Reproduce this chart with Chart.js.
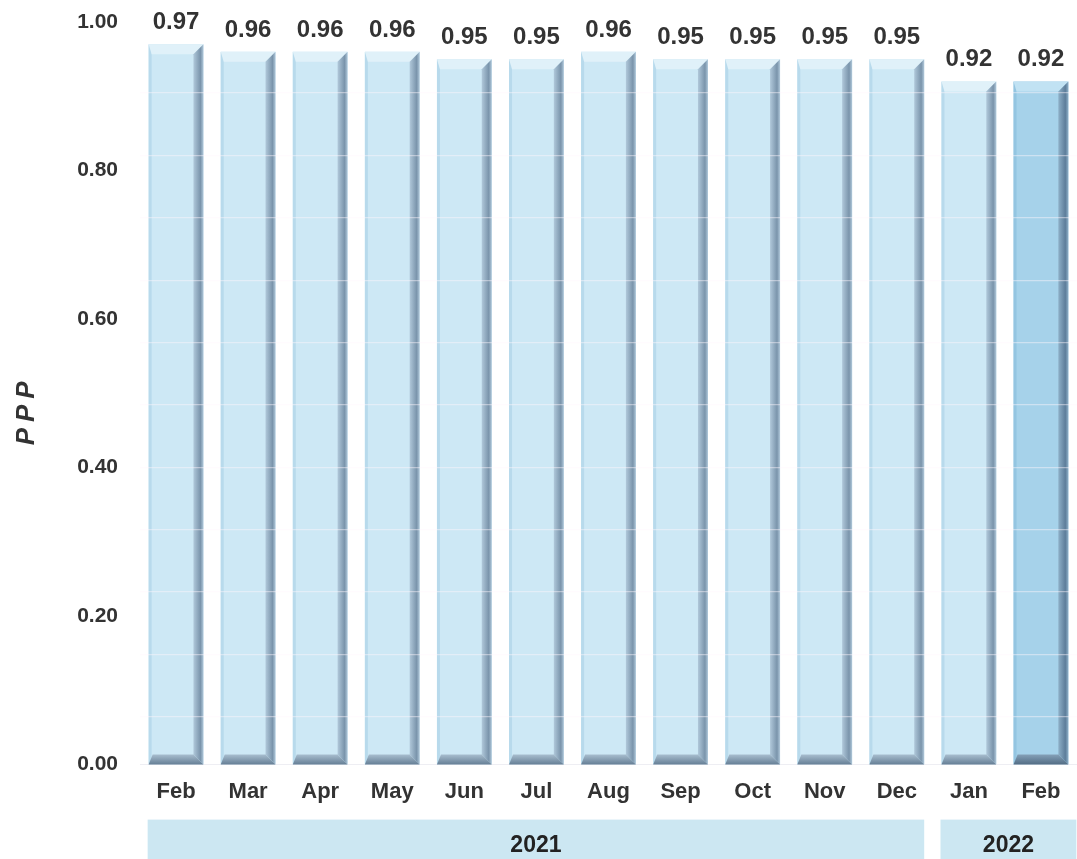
<!DOCTYPE html>
<html>
<head>
<meta charset="utf-8">
<script src="https://cdn.jsdelivr.net/npm/chart.js@4.4.1/dist/chart.umd.min.js"></script>
<style>
  html, body { margin: 0; padding: 0; background: #ffffff; }
  #wrap { width: 1077px; height: 859px; position: relative; }
</style>
</head>
<body>
<div id="wrap"><canvas id="c"></canvas></div>
<script>
// Monthly PPP values, Feb 2021 – Feb 2022
const months = ['Feb', 'Mar', 'Apr', 'May', 'Jun', 'Jul', 'Aug', 'Sep', 'Oct', 'Nov', 'Dec', 'Jan', 'Feb'];
const ppp = [0.97, 0.96, 0.96, 0.96, 0.95, 0.95, 0.96, 0.95, 0.95, 0.95, 0.95, 0.92, 0.92];
const yearLabels = ['2021', '2022'];
const yearSpans = [11, 2];
const yTickValues = [0.0, 0.2, 0.4, 0.6, 0.8, 1.0];
const axisTitle = 'PPP';

const FONT = "'Liberation Sans', Arial, Helvetica, sans-serif";
const INK = '#333333';
const HIGHLIGHT = months.length - 1;   // latest month drawn in a deeper blue

const shade = {
  normal: { body: '#cde8f5', left: '#b8daec', top: '#e0f1f9', right: ['#b0c8da', '#7a94ab'], bottom: ['#a7bdce', '#657e95'] },
  accent: { body: '#a6d2ea', left: '#94c5e1', top: '#c1e2f3', right: ['#8dafc7', '#5d7d9a'], bottom: ['#84a0b7', '#526c84'] }
};

function poly(ctx, pts, fill) {
  ctx.beginPath();
  ctx.moveTo(pts[0][0], pts[0][1]);
  for (let i = 1; i < pts.length; i++) ctx.lineTo(pts[i][0], pts[i][1]);
  ctx.closePath();
  ctx.fillStyle = fill;
  ctx.fill();
}

// Bevelled edges on each bar, then the value printed above it
const bevelAndValues = {
  id: 'bevelAndValues',
  afterDatasetsDraw(chart) {
    const ctx = chart.ctx;
    const meta = chart.getDatasetMeta(0);
    ctx.save();
    meta.data.forEach((bar, i) => {
      const s = i === HIGHLIGHT ? shade.accent : shade.normal;
      const { x, y, base, width } = bar.getProps(['x', 'y', 'base', 'width'], true);
      const l = x - width / 2, r = x + width / 2, t = y, b = base, e = 10;

      poly(ctx, [[l, t], [l + 3, t + 3], [l + 3, b - 3], [l, b]], s.left);
      poly(ctx, [[l, t], [r, t], [r - e, t + e], [l + 3, t + e]], s.top);

      const gr = ctx.createLinearGradient(r - e, 0, r, 0);
      gr.addColorStop(0, s.right[0]);
      gr.addColorStop(0.7, s.right[1]);
      gr.addColorStop(1, s.right[0]);
      poly(ctx, [[r - e, t + e], [r, t], [r, b], [r - e, b - e]], gr);

      const gb = ctx.createLinearGradient(0, b - e, 0, b);
      gb.addColorStop(0, s.bottom[0]);
      gb.addColorStop(1, s.bottom[1]);
      poly(ctx, [[l, b], [r, b], [r - e, b - e], [l + 4, b - e]], gb);

      ctx.fillStyle = INK;
      ctx.font = `bold 24px ${FONT}`;
      ctx.textAlign = 'center';
      ctx.textBaseline = 'alphabetic';
      ctx.fillText(ppp[i].toFixed(2), x, t - 15);
    });
    ctx.restore();
  }
};

// Year bands under the month labels, and the rotated axis title
const yearsAndTitle = {
  id: 'yearsAndTitle',
  afterDraw(chart) {
    const ctx = chart.ctx;
    const ca = chart.chartArea;
    const meta = chart.getDatasetMeta(0);
    const bandTop = ca.bottom + 55;
    ctx.save();
    let start = 0;
    yearLabels.forEach((label, g) => {
      const first = meta.data[start];
      const last = meta.data[start + yearSpans[g] - 1];
      const l = first.x - first.width / 2 - 1;
      const r = last.x + last.width / 2 + (g === yearLabels.length - 1 ? 8 : 0);
      ctx.fillStyle = '#cce7f2';
      ctx.fillRect(l, bandTop, r - l, chart.height - bandTop);
      ctx.fillStyle = '#222222';
      ctx.font = `bold 23px ${FONT}`;
      ctx.textAlign = 'center';
      ctx.textBaseline = 'middle';
      ctx.fillText(label, (l + r) / 2, bandTop + 26);
      start += yearSpans[g];
    });

    ctx.translate(27, (ca.top + ca.bottom) / 2 + 20);
    ctx.rotate(-Math.PI / 2);
    ctx.font = `italic bold 26px ${FONT}`;
    ctx.letterSpacing = '6px';
    ctx.fillStyle = INK;
    ctx.textAlign = 'left';
    ctx.textBaseline = 'middle';
    const w = ctx.measureText(axisTitle).width - 6;
    ctx.fillText(axisTitle, -w / 2, 0);
    ctx.restore();
  }
};

new Chart(document.getElementById('c'), {
  type: 'bar',
  data: {
    labels: months,
    datasets: [{
      data: ppp,
      yAxisID: 'y',
      backgroundColor: (c) => c.dataIndex === HIGHLIGHT ? shade.accent.body : shade.normal.body,
      borderWidth: 0,
      barPercentage: 0.76,
      categoryPercentage: 1.0
    }]
  },
  options: {
    responsive: true,
    maintainAspectRatio: false,
    animation: false,
    layout: { padding: { left: 60, top: 22, right: 0, bottom: 40 } },
    plugins: { legend: { display: false }, tooltip: { enabled: false } },
    scales: {
      x: {
        grid: { display: false, drawTicks: false },
        border: { display: true, color: '#eeeef3' },
        ticks: { padding: 14, color: INK, font: { family: FONT, size: 22, weight: 'bold' } }
      },
      y: {
        min: 0,
        max: 1,
        afterBuildTicks: (s) => { s.ticks = yTickValues.map(v => ({ value: v })); },
        afterFit: (s) => { s.width = 80; s.paddingTop = 0; s.paddingBottom = 0; },
        grid: { display: false, drawTicks: false },
        border: { display: false },
        ticks: {
          padding: 22, color: INK,
          font: { family: FONT, size: 21, weight: 'bold' },
          callback: (v) => Number(v).toFixed(2)
        }
      },
      // faint white rules that show across the bars
      y2: {
        position: 'left',
        min: -0.77,
        max: 11.14,
        afterBuildTicks: (s) => { s.ticks = s.ticks.filter(t => Number.isInteger(t.value)); },
        afterFit: (s) => { s.width = 0; s.paddingTop = 0; s.paddingBottom = 0; },
        ticks: { display: false, stepSize: 1 },
        grid: { z: 1, color: 'rgba(255,246,252,0.45)', lineWidth: 1.2, drawTicks: false },
        border: { display: false }
      }
    }
  },
  plugins: [bevelAndValues, yearsAndTitle]
});
</script>
</body>
</html>
